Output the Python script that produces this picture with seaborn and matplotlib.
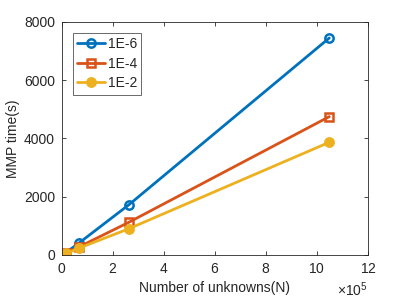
import numpy as np
import pandas as pd
import seaborn as sns
from matplotlib import pyplot as plt

# number of unknowns and MMP time per tolerance
n_unknowns = [4096, 16384, 65536, 262144, 1048576]
time_1e6 = [12, 85, 400, 1720, 7450]
time_1e4 = [10, 62, 270, 1120, 4750]
time_1e2 = [9, 52, 230, 900, 3870]
labels = ["1E-6", "1E-4", "1E-2"]

sns.set_theme(style="ticks")
plt.rcParams["font.family"] = ["Liberation Sans", "DejaVu Sans"]
plt.rcParams["mathtext.fontset"] = "custom"
plt.rcParams["mathtext.rm"] = "Liberation Sans"

fig = plt.figure(figsize=(4.07, 3.05), dpi=100)
ax = fig.add_axes([0.152, 0.164, 0.752, 0.764])

colors = ["#0072BD", "#D95319", "#EDB120"]
markers = ["o", "s", "o"]
faces = ["none", "none", "#EDB120"]

for ys, lab, c, m, fc in zip([time_1e6, time_1e4, time_1e2], labels, colors, markers, faces):
    sns.lineplot(
        x=n_unknowns, y=ys, ax=ax, color=c, marker=m, markersize=6,
        markerfacecolor=fc, markeredgecolor=c, markeredgewidth=1.8,
        linewidth=2.0, label=lab,
    )

ax.set_xlim(0, 1.2e6)
ax.set_ylim(0, 8000)
ax.set_xticks(np.arange(0, 1.2e6 + 1, 2e5))
ax.set_yticks(np.arange(0, 8001, 2000))
ax.ticklabel_format(axis="x", style="sci", scilimits=(5, 5), useMathText=True)

for s in ax.spines.values():
    s.set_visible(True)
    s.set_color("#262626")
    s.set_linewidth(0.6)
ax.tick_params(direction="in", length=3, width=0.6, colors="#262626",
               labelsize=10, top=True, right=True, pad=5)
ax.xaxis.get_offset_text().set_fontsize(10)

ax.set_xlabel("Number of unknowns(N)", fontsize=10, color="#262626", labelpad=4)
ax.set_ylabel("MMP time(s)", fontsize=10, color="#262626", labelpad=3)

leg = ax.legend(loc="upper left", fontsize=10, frameon=True, fancybox=False,
                edgecolor="#262626", handlelength=2.0, handletextpad=0.2,
                borderpad=0.3, labelspacing=0.4, borderaxespad=0.8)
leg.get_frame().set_linewidth(0.6)

fig.savefig("out.png", dpi=100)
